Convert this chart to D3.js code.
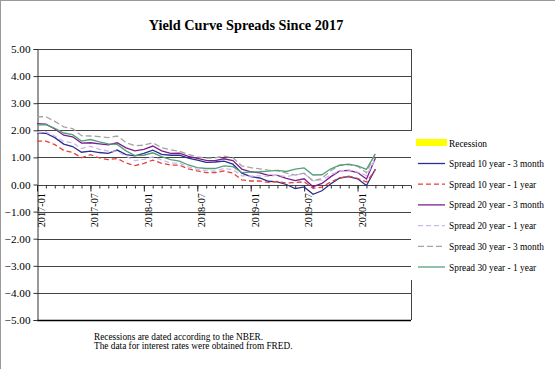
<!DOCTYPE html>
<html><head><meta charset="utf-8">
<script src="https://cdn.jsdelivr.net/npm/d3@7"></script>
<style>html,body{margin:0;padding:0;background:#fff;}svg{display:block;}</style>
</head><body>
<svg id="c" width="555" height="369"></svg>
<script>
const months = ["2017-01","2017-02","2017-03","2017-04","2017-05","2017-06","2017-07","2017-08","2017-09","2017-10","2017-11","2017-12",
"2018-01","2018-02","2018-03","2018-04","2018-05","2018-06","2018-07","2018-08","2018-09","2018-10","2018-11","2018-12",
"2019-01","2019-02","2019-03","2019-04","2019-05","2019-06","2019-07","2019-08","2019-09","2019-10","2019-11","2019-12",
"2020-01","2020-02","2020-03"];
const axisMonths = 42; // axis runs 2017-01 .. 2020-07
const xTickLabels = ["2017-01","2017-07","2018-01","2018-07","2019-01","2019-07","2020-01"];
const yTicks = [5,4,3,2,1,0,-1,-2,-3,-4,-5];

const s10y3m = [1.91,1.89,1.73,1.49,1.40,1.19,1.23,1.18,1.15,1.27,1.10,1.06,
 1.15,1.27,1.11,1.08,1.08,0.97,0.90,0.82,0.83,0.86,0.75,0.42,
 0.29,0.24,0.12,0.10,0.00,-0.15,-0.09,-0.36,-0.23,0.03,0.24,0.29,
 0.21,-0.04,0.57];
const s10y1y = [1.60,1.60,1.47,1.26,1.18,0.99,1.10,0.98,0.92,0.96,0.79,0.70,
 0.78,0.90,0.78,0.72,0.71,0.58,0.50,0.44,0.44,0.50,0.42,0.17,
 0.13,0.13,0.08,0.11,0.06,0.07,0.10,-0.14,-0.10,0.10,0.24,0.31,
 0.23,0.09,0.54];
const s20y3m = [2.25,2.23,2.05,1.82,1.76,1.53,1.54,1.50,1.46,1.54,1.35,1.24,
 1.30,1.42,1.24,1.15,1.16,1.04,0.96,0.89,0.88,0.95,0.88,0.57,
 0.47,0.43,0.34,0.34,0.23,0.14,0.21,-0.08,0.04,0.29,0.50,0.52,
 0.44,0.20,0.97];
const s20y1y = [1.92,1.94,1.79,1.59,1.54,1.33,1.41,1.30,1.23,1.23,1.04,0.88,
 0.93,1.02,0.91,0.79,0.79,0.65,0.56,0.51,0.49,0.59,0.55,0.32,
 0.31,0.32,0.30,0.35,0.29,0.36,0.40,0.14,0.17,0.36,0.50,0.54,
 0.46,0.33,0.94];
const s30y3m = [2.50,2.50,2.33,2.13,2.06,1.80,1.79,1.77,1.73,1.79,1.55,1.43,
 1.45,1.54,1.36,1.28,1.23,1.11,1.02,0.97,0.98,1.05,0.99,0.69,
 0.62,0.58,0.53,0.51,0.42,0.35,0.42,0.13,0.23,0.51,0.71,0.73,
 0.67,0.43,1.16];
const s30y1y = [2.19,2.21,2.07,1.90,1.84,1.60,1.66,1.57,1.50,1.48,1.24,1.07,
 1.08,1.17,1.03,0.92,0.86,0.72,0.62,0.59,0.59,0.69,0.66,0.44,
 0.46,0.47,0.49,0.52,0.48,0.57,0.61,0.35,0.36,0.58,0.71,0.75,
 0.69,0.56,1.13];

const seriesNames = ["Spread 10 year - 3 month","Spread 10 year - 1 year","Spread 20 year - 3 month",
 "Spread 20 year - 1 year","Spread 30 year - 3 month","Spread 30 year - 1 year"];
const seriesValues = [s10y3m, s10y1y, s20y3m, s20y1y, s30y3m, s30y1y];
const seriesColors = ["#2e2e8c","#e8403a","#7b1f8c","#cdb6f0","#a4a4a4","#55a07a"];
const seriesDash = [null,"5,3",null,"5,3","6,3",null];

const svg = d3.select("#c");
const serif = "'Liberation Serif','Times New Roman',serif";
const L = 37, R = 411, T = 49, B = 320;
const x = d3.scaleLinear().domain([0, axisMonths]).range([L, R]);
const y = d3.scaleLinear().domain([-5, 5]).range([B, T]);

// frame
svg.append("line").attr("x1",0.5).attr("y1",0).attr("x2",0.5).attr("y2",369).attr("stroke","#999");
svg.append("line").attr("x1",0).attr("y1",0.5).attr("x2",555).attr("y2",0.5).attr("stroke","#999");

// title
svg.append("text").attr("x",246).attr("y",30).attr("text-anchor","middle")
 .attr("font-family",serif).attr("font-weight","bold").attr("font-size",14.3)
 .text("Yield Curve Spreads Since 2017");

// gridlines
svg.append("g").selectAll("line").data(yTicks).join("line")
 .attr("x1",L).attr("x2",R)
 .attr("y1",d=>Math.round(y(d))+0.5).attr("y2",d=>Math.round(y(d))+0.5)
 .attr("stroke",d=>d===-5?"#000":"#444").attr("stroke-width",d=>d===-5?1.5:1);

// right border (partly hidden by legend)
svg.append("line").attr("x1",R+0.5).attr("x2",R+0.5).attr("y1",T).attr("y2",131).attr("stroke","#444");
svg.append("line").attr("x1",R+0.5).attr("x2",R+0.5).attr("y1",280).attr("y2",B).attr("stroke","#444");

// y axis
const yAxis = d3.axisLeft(y).tickValues(yTicks).tickFormat(d3.format(".2f")).tickSize(4).tickPadding(3);
const gy = svg.append("g").attr("transform",`translate(${L+0.5},0)`).call(yAxis);
gy.select(".domain").attr("stroke","#333");
gy.selectAll(".tick line").attr("stroke","#333");
gy.selectAll("text").attr("font-family",serif).attr("font-size",11.2).attr("fill","#000");

// x axis at 0
const y0 = Math.round(y(0))+0.5;
const allTicks = d3.range(0, axisMonths+1);
const xAxisMinor = d3.axisBottom(x).tickValues(allTicks).tickSize(3).tickFormat("");
const gx = svg.append("g").attr("transform",`translate(0,${y0})`).call(xAxisMinor);
gx.select(".domain").remove();
gx.selectAll(".tick line").attr("stroke","#333");
const majorIdx = xTickLabels.map(l => months.indexOf(l));
const xAxisMajor = d3.axisBottom(x).tickValues(majorIdx).tickSize(6).tickFormat("");
const gx2 = svg.append("g").attr("transform",`translate(0,${y0})`).call(xAxisMajor);
gx2.select(".domain").remove();
gx2.selectAll(".tick line").attr("stroke","#222");
svg.append("g").selectAll("text").data(xTickLabels).join("text")
 .attr("transform",d=>`translate(${x(months.indexOf(d))+8},193) rotate(-90)`)
 .attr("text-anchor","end").attr("font-family",serif).attr("font-size",10.3)
 .text(d=>d);

// lines
const line = d3.line().x((d,i)=>x(i)).y(d=>y(d));
svg.append("g").selectAll("path").data(seriesValues).join("path")
 .attr("d",d=>line(d)).attr("fill","none")
 .attr("stroke",(d,i)=>seriesColors[i]).attr("stroke-width",1.3)
 .attr("stroke-dasharray",(d,i)=>seriesDash[i]);

// legend
const lg = svg.append("g");
lg.append("rect").attr("x",416).attr("y",139).attr("width",31).attr("height",7).attr("fill","#ffff00");
lg.append("text").attr("x",449).attr("y",146.5).attr("font-family",serif).attr("font-size",9.4).text("Recession");
const ly = i => 163.5 + i*20.7;
lg.selectAll("line.s").data(seriesNames).join("line").attr("class","s")
 .attr("x1",418).attr("x2",445).attr("y1",(d,i)=>ly(i)).attr("y2",(d,i)=>ly(i))
 .attr("stroke",(d,i)=>seriesColors[i]).attr("stroke-width",1.3)
 .attr("stroke-dasharray",(d,i)=>seriesDash[i]);
lg.selectAll("text.s").data(seriesNames).join("text").attr("class","s")
 .attr("x",449).attr("y",(d,i)=>ly(i)+3.5).attr("font-family",serif).attr("font-size",9.4).text(d=>d);

// footnote
const notes = ["Recessions are dated according to the NBER.","The data for interest rates were obtained from FRED."];
svg.append("g").selectAll("text").data(notes).join("text")
 .attr("x",94).attr("y",(d,i)=>340+i*8.5).attr("font-family",serif).attr("font-size",9.3).text(d=>d);
</script>
</body></html>
